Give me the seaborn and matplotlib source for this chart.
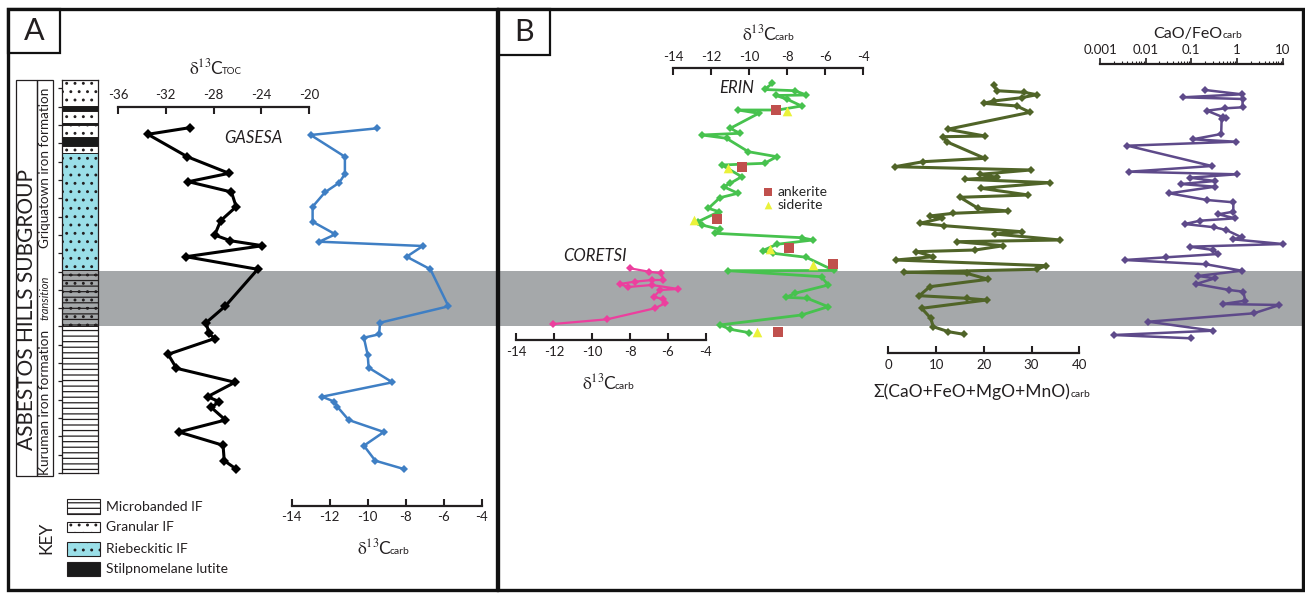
import numpy as np
import matplotlib
matplotlib.use("Agg")
import matplotlib.pyplot as plt
import seaborn as sns
from matplotlib.transforms import Affine2D
from matplotlib.patches import Rectangle
from matplotlib.ticker import FixedLocator, LogLocator, NullFormatter, FixedFormatter

sns.set_theme(style="white")
plt.rcParams["font.family"] = ["Lato", "DejaVu Sans"]
plt.rcParams["mathtext.fontset"] = "stix"
plt.rcParams["hatch.linewidth"] = 0.9
plt.rcParams["axes.unicode_minus"] = False

# ---------------- data (depth = relative stratigraphic position, arbitrary units) -------------
# Panel A, GASESA core
gas_depth_toc = [47.7, 54.3, 76.7, 93.3, 101.7, 112, 126.7, 140.7, 155, 160.7, 165.7, 176.7, 189.3,
                 226, 242.5, 253.3, 258.5, 274.3, 288.3, 302.3, 316.7, 321.7, 327.3, 340, 352,
                 365.3, 380.7, 389]
gas_d13c_toc = [-30.0, -33.5, -30.2, -26.7, -30.1, -26.5, -26.1, -27.4, -27.9, -26.6, -23.9, -30.3,
                -24.3, -27.0, -28.6, -28.4, -27.9, -31.8, -31.1, -26.2, -28.5, -27.5, -28.2, -27.0,
                -30.9, -27.2, -27.1, -26.1]
gas_depth_carb = [48.3, 55, 76.7, 94, 102.7, 112.3, 126.7, 141.7, 154.3, 161.7, 166, 176.7, 189.3,
                  226.3, 242.7, 254.3, 257.7, 275, 287.7, 302.3, 316.7, 321.7, 326.7, 340, 352,
                  365.7, 380.7, 389]
gas_d13c_carb = [-9.5, -13.0, -11.2, -11.2, -11.5, -12.25, -12.9, -12.9, -11.7, -12.55, -7.1, -7.95,
                 -6.7, -5.75, -9.35, -9.4, -10.2, -10.0, -9.95, -8.7, -12.4, -11.75, -11.6, -11.0,
                 -9.15, -10.2, -9.6, -8.1]

# stratigraphic column
layer_top = [0, 26, 31, 43, 45, 56.7, 65.8, 72.7, 190.5, 246]
layer_bot = [26, 31, 43, 45, 56.7, 65.8, 72.7, 190.5, 246, 393]
layer_type = ["granular", "stilp", "granular", "stilp", "granular", "stilp", "granular",
              "riebeckitic", "transition", "microbanded"]
transition_top, transition_bot = 190.5, 246

# Panel B, ERIN core
erin_depth = [3.5, 9.5, 10.7, 15, 15.5, 19.3, 26, 30, 30, 33.3, 48.3, 53.3, 55, 58.3, 71.7, 76.7,
              83.3, 85, 96.7, 103.3, 106.7, 113.3, 117.7, 128.3, 131.7, 141.7, 145, 149.3, 153.3,
              157.7, 160, 164.3, 170.7, 173.3, 177.3, 190.5, 190.7, 196.7, 205, 213.3, 217.3,
              218.3, 226.7, 235, 245, 249.3, 252.7]
erin_d13c = [-8.8, -9.2, -7.6, -7.0, -8.6, -8.0, -7.25, -8.5, -10.6, -9.5, -11.0, -10.5, -12.5,
             -11.2, -10.05, -8.55, -9.2, -11.45, -10.4, -11.0, -11.35, -10.6, -11.55, -12.15,
             -11.6, -12.7, -12.5, -11.55, -11.8, -7.25, -6.65, -8.55, -9.3, -8.75, -7.0, -5.55,
             -11.1, -6.2, -5.85, -7.6, -8.05, -6.95, -5.85, -7.25, -11.55, -11.0, -10.0]
ank_depth = [30.5, 87.5, 139.3, 168.5, 184, 251.7]
ank_d13c = [-8.6, -10.4, -11.7, -7.9, -5.6, -8.5]
sid_depth = [31.5, 88.2, 140.3, 169.2, 184.7, 252]
sid_d13c = [-8.0, -11.1, -12.9, -8.9, -6.65, -9.6]

# Panel B, CORETSI core
cor_depth = [188.3, 191.7, 193.3, 200, 200, 201.7, 204, 207, 205, 209, 210, 216.7, 219.3, 223.3,
             228.3, 239.3, 244]
cor_d13c = [-8.0, -7.0, -6.35, -6.25, -6.85, -7.75, -8.55, -8.1, -6.85, -5.45, -6.4, -6.75, -6.25,
            -6.15, -6.7, -9.2, -12.05]

# ERIN oxides
ox_depth = [5, 10.7, 12.3, 14.7, 17.7, 21, 23.3, 26, 32.3, 49.3, 56, 56.7, 61.7, 78.3, 81.7, 86.7,
            90, 94.3, 97.3, 99.3, 102.7, 108.3, 115, 117.3, 128.3, 131, 133.3, 136, 138.3, 143.3,
            145.7, 151.7, 154, 160, 161.7, 165.7, 170, 171.7, 176.7, 180, 185.7, 189.3, 192.3,
            193.3, 199.3, 206.7, 215.7, 218.3, 220, 228.3, 238.3, 246.7, 251.7, 254.3]
ox_sum = [22.1, 22.7, 28.4, 31.1, 27.9, 22.1, 20.0, 26.9, 29.7, 12.4, 20.2, 11.5, 12.2, 20.2, 7.3,
          1.4, 29.8, 19.2, 22.7, 16.1, 33.9, 19.5, 29.3, 15.0, 18.8, 25.1, 13.6, 8.7, 11.2, 6.6,
          11.7, 27.9, 22.3, 36.0, 14.3, 24.1, 18.2, 5.9, 9.4, 1.6, 33.0, 31.1, 3.3, 16.4, 20.9,
          8.7, 6.5, 16.4, 20.6, 7.0, 8.9, 9.4, 12.6, 15.8]

# ERIN CaO/FeO
cf_depth = [10, 14.3, 17.3, 19, 27.3, 28.3, 30.7, 37.3, 38.3, 39.3, 54, 59.3, 61.7, 65.7, 86, 91.7,
            94.3, 97.7, 101, 104, 106.7, 113.3, 120, 122.3, 131.7, 134.3, 138.3, 140.7, 144, 147.3,
            150, 157.3, 159.3, 164, 166.7, 170, 174, 177.3, 180, 184.3, 190.7, 196, 198.3, 204,
            210, 211.7, 220.7, 224, 225, 233.3, 241.7, 250.7, 255, 258.3]
cf_ratio = [0.20, 1.26, 0.066, 1.32, 1.32, 0.55, 0.22, 0.50, 0.58, 0.46, 0.45, 0.107, 0.95, 0.004,
            0.28, 0.0044, 0.98, 0.093, 0.33, 0.059, 0.33, 0.033, 0.22, 0.83, 0.83, 0.39, 0.91,
            0.155, 0.072, 0.32, 0.58, 1.26, 0.81, 10.0, 0.093, 0.30, 0.39, 0.028, 0.0035, 0.21,
            1.26, 0.14, 0.33, 0.126, 0.68, 1.38, 1.51, 0.49, 8.5, 2.34, 0.0115, 0.30, 0.002, 0.098]

key_labels = ["Microbanded IF", "Granular IF", "Riebeckitic IF", "Stilpnomelane lutite"]
key_types = ["microbanded", "granular", "riebeckitic", "stilp"]

# ---------------- styles ----------------
INK = "#231f20"
GRAY = "#a5a8aa"
CYAN = "#9adfe8"
C_TOC = "#000000"
C_GAS = "#3f7fc4"
C_ERIN = "#47c24e"
C_COR = "#ec3f9e"
C_OX = "#506428"
C_CF = "#5e4a8a"
C_ANK = "#c0504d"
C_SID = "#eaf23a"

fill_of = {"granular": "white", "stilp": "#1a1a1a", "riebeckitic": CYAN,
           "transition": GRAY, "microbanded": "white"}
hatch_of = {"granular": "..", "stilp": None, "riebeckitic": "..",
            "transition": "---..", "microbanded": "---"}

W, H = 1305, 594
DEPTH0 = 80  # pixel row of depth 0 (top of the column)
fig = plt.figure(figsize=(W / 100, H / 100), dpi=100)
T = Affine2D().scale(1 / W, -1 / H).translate(0, 1) + fig.transFigure


def add_ax(x0, x1, y0, y1, **kw):
    return fig.add_axes([x0 / W, 1 - y1 / H, (x1 - x0) / W, (y1 - y0) / H], **kw)


def ptext(x, y, s, **kw):
    kw.setdefault("ha", "center")
    kw.setdefault("va", "center")
    kw.setdefault("color", INK)
    return fig.text(x, y, s, transform=T, **kw)


def axis_title(x_split, y_base, main, sub, size=12.5, subsize=7.5, gap=-2.5):
    ptext(x_split, y_base, main, ha="right", va="baseline", fontsize=size)
    ptext(x_split + gap, y_base, sub, ha="left", va="baseline", fontsize=subsize)


DELTA = r"$\mathrm{\delta}^{\mathrm{13}}$C"

# background band (shared depth scale)
ax_band = add_ax(0, W, 0, H)
ax_band.set_xlim(0, 1)
ax_band.set_ylim(H - DEPTH0, -DEPTH0)
ax_band.axis("off")
ax_band.axhspan(transition_top, transition_bot, xmin=98 / W, xmax=496 / W, color=GRAY, lw=0)
ax_band.axhspan(transition_top, transition_bot, xmin=498 / W, xmax=1302 / W, color=GRAY, lw=0)


def curve_axis(x0, x1, y0, y1, xlim, side, ticks, direction="in"):
    ax = add_ax(x0, x1, y0, y1)
    ax.patch.set_alpha(0)
    for s in ax.spines.values():
        s.set_visible(False)
    sp = ax.spines[side]
    sp.set_visible(True)
    sp.set_linewidth(1.6)
    sp.set_color(INK)
    ax.set_yticks([])
    if side == "top":
        ax.xaxis.tick_top()
        ax.tick_params(axis="x", top=True, bottom=False)
    else:
        ax.xaxis.tick_bottom()
        ax.tick_params(axis="x", top=False, bottom=True)
    ax.tick_params(axis="x", direction=direction, length=5, width=1.5, color=INK,
                   labelsize=9.5, labelcolor=INK, pad=4)
    ax._lims = (xlim, (y1 - DEPTH0, y0 - DEPTH0))
    ax._ticks = ticks
    return ax


def finish(ax):
    ax.set_xlim(*ax._lims[0])
    ax.set_ylim(*ax._lims[1])
    if ax._ticks is not None:
        ax.set_xticks(ax._ticks)
    ax.set_xlabel("")
    ax.set_ylabel("")


def draw_line(ax, x, y, color, lw, ms):
    sns.lineplot(x=x, y=y, sort=False, estimator=None, ax=ax, color=color, linewidth=lw,
                 marker="D", markersize=ms, markeredgewidth=0, clip_on=False)


# ---------------- Panel A ----------------
ax_toc = curve_axis(118, 309, 107, 480, (-36, -20), "top", [-36, -32, -28, -24, -20])
draw_line(ax_toc, gas_d13c_toc, gas_depth_toc, C_TOC, 2.2, 5)
finish(ax_toc)

ax_gas = curve_axis(291.7, 481.7, 110, 505.7, (-14, -4), "bottom", [-14, -12, -10, -8, -6, -4])
draw_line(ax_gas, gas_d13c_carb, gas_depth_carb, C_GAS, 1.8, 4.5)
finish(ax_gas)

axis_title(224, 74, DELTA, "TOC", subsize=7)
axis_title(392, 554, DELTA, "carb")
ptext(253, 138, "GASESA", fontsize=12, style="italic")

# stratigraphic column
ax_col = add_ax(62, 97.7, 80, 473)
for t, b, kind in zip(layer_top, layer_bot, layer_type):
    ax_col.barh(y=(t + b) / 2, width=1, height=b - t, left=0, color=fill_of[kind],
                edgecolor=INK, hatch=hatch_of[kind], linewidth=0.7)
ax_col.set_xlim(0, 1)
ax_col.set_ylim(393, 0)
ax_col.set_xticks([])
ax_col.set_yticks(8.33 + 18.33 * np.arange(22))
ax_col.tick_params(axis="y", left=True, direction="out", length=3, width=0.9, color=INK,
                   labelleft=False)
for s in ax_col.spines.values():
    s.set_color(INK)
    s.set_linewidth(0.9)

fig.add_artist(Rectangle((16, 80), 20.7, 396, fill=False, ec=INK, lw=0.9, transform=T))
fig.add_artist(Rectangle((36.7, 80), 16.3, 396, fill=False, ec=INK, lw=0.9, transform=T))
ptext(27, 309, "ASBESTOS HILLS SUBGROUP", rotation=90, fontsize=15)
ptext(45.5, 168, "Griquatown iron formation", rotation=90, fontsize=9.7)
ptext(45.5, 298, "transition", rotation=90, fontsize=8, style="italic")
ptext(45.5, 402, "Kuruman iron formation", rotation=90, fontsize=9.8)

# key
key_boxes = [(499.3, 514), (521.7, 531.7), (541.7, 555.7), (561.7, 576)]
for (y0, y1), lab, kind in zip(key_boxes, key_labels, key_types):
    fig.add_artist(Rectangle((66.7, y0), 33.3, y1 - y0, facecolor=fill_of[kind], edgecolor=INK,
                             hatch=hatch_of[kind], lw=0.8, transform=T))
    ptext(106, (y0 + y1) / 2, lab, ha="left", fontsize=10)
ptext(46, 538, "KEY", rotation=90, fontsize=12.5)

# ---------------- Panel B ----------------
ax_erin = curve_axis(673.3, 863.3, 68.3, 345, (-14, -4), "top", [-14, -12, -10, -8, -6, -4])
draw_line(ax_erin, erin_d13c, erin_depth, C_ERIN, 2.0, 4.5)
h_ank = ax_erin.scatter(ank_d13c, ank_depth, marker="s", s=42, color=C_ANK, lw=0, zorder=5,
                        label="ankerite", clip_on=False)
h_sid = ax_erin.scatter(sid_d13c, sid_depth, marker="^", s=48, color=C_SID, lw=0, zorder=5,
                        label="siderite", clip_on=False)
finish(ax_erin)
ax_erin.legend(handles=[h_ank, h_sid], labels=["ankerite", "siderite"], loc="upper left",
               bbox_to_anchor=(762 / W, 1 - 186 / H), bbox_transform=fig.transFigure,
               frameon=False, fontsize=10, handlelength=0.8, handletextpad=0.3,
               labelspacing=0.05, borderpad=0, borderaxespad=0, markerscale=0.8)

ax_cor = curve_axis(516, 706, 170, 340, (-14, -4), "bottom", [-14, -12, -10, -8, -6, -4])
draw_line(ax_cor, cor_d13c, cor_depth, C_COR, 1.6, 4.5)
finish(ax_cor)

ax_ox = curve_axis(888.3, 1079.3, 70, 353.3, (0, 40), "bottom", [0, 10, 20, 30, 40])
draw_line(ax_ox, ox_sum, ox_depth, C_OX, 2.2, 4.5)
finish(ax_ox)

ax_cf = curve_axis(1100, 1282.7, 64.3, 345, (1e-3, 10), "top", None, direction="out")
draw_line(ax_cf, cf_ratio, cf_depth, C_CF, 1.8, 4.5)
ax_cf.set_xscale("log")
finish(ax_cf)
ax_cf.xaxis.set_major_locator(FixedLocator([1e-3, 1e-2, 1e-1, 1, 10]))
ax_cf.xaxis.set_major_formatter(FixedFormatter(["0.001", "0.01", "0.1", "1", "10"]))
ax_cf.xaxis.set_minor_locator(LogLocator(base=10, subs=np.arange(2, 10), numticks=20))
ax_cf.xaxis.set_minor_formatter(NullFormatter())
ax_cf.tick_params(axis="x", which="major", direction="out", length=4, width=1.2, pad=2)
ax_cf.tick_params(axis="x", which="minor", top=True, bottom=False, direction="out", length=2,
                  width=0.8, color=INK)

axis_title(777, 40, DELTA, "carb")
axis_title(617, 389, DELTA, "carb")
axis_title(1070, 397, "Σ(CaO+FeO+MgO+MnO)", "carb", size=12.5, gap=0.5)
axis_title(1222, 38, "CaO/FeO", "carb", size=11.5, gap=0.5)
ptext(737, 88, "ERIN", fontsize=12, style="italic")
ptext(595, 256, "CORETSI", fontsize=12, style="italic")

# ---------------- frames and panel tags ----------------
fig.add_artist(Rectangle((7.5, 9), 489, 581, fill=False, ec="#111111", lw=2.4, transform=T))
fig.add_artist(Rectangle((497.5, 9), 805, 581, fill=False, ec="#111111", lw=2.4, transform=T))
fig.add_artist(Rectangle((7.5, 9), 52.5, 44, fill=False, ec="#111111", lw=1.6, transform=T))
fig.add_artist(Rectangle((497.5, 9), 52.5, 46, fill=False, ec="#111111", lw=1.6, transform=T))
ptext(34, 31, "A", fontsize=22)
ptext(524, 32, "B", fontsize=22)

fig.savefig("out.png", dpi=100)
